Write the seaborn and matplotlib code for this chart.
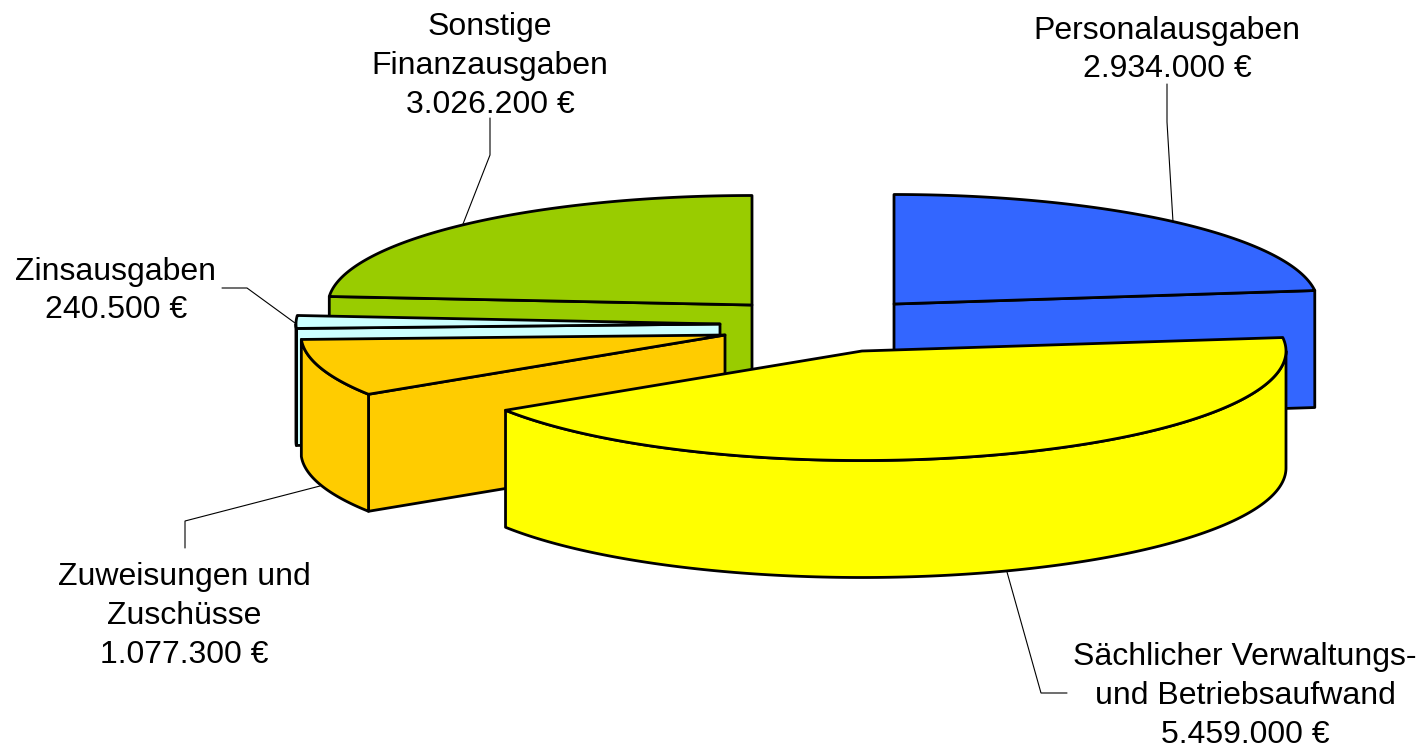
import numpy as np
import matplotlib
matplotlib.use("Agg")
import matplotlib.pyplot as plt
from matplotlib.patches import Polygon
import seaborn as sns

# Data
categories = ["Personalausgaben", "Sächlicher Verwaltungs-\nund Betriebsaufwand",
              "Zuweisungen und\nZuschüsse", "Zinsausgaben", "Sonstige\nFinanzausgaben"]
values = [2934000, 5459000, 1077300, 240500, 3026200]
value_labels = ["2.934.000 €", "5.459.000 €", "1.077.300 €", "240.500 €", "3.026.200 €"]

# Styling / layout
palette = sns.color_palette(["#3366FF", "#FFFF00", "#FFCC00", "#CCFFFF", "#99CC00"])
apex_x = [894, 862, 725, 720, 752]
apex_y = [304, 351, 335, 324, 305]
RX, RY, DEPTH = 424, 109.5, 117
draw_order = [4, 0, 3, 2, 1]
label_pos = [(1167, 50), (1245, 696), (184, 616), (116, 291), (490, 66)]
leaders = [
    [(1167, 84), (1167, 122), (1173, 222)],
    [(1007, 572), (1041, 693), (1067, 693)],
    [(185, 548), (185, 521), (320, 486)],
    [(222, 288), (247, 288), (295, 323)],
    [(490, 118), (490, 155), (463, 224)],
]

sns.set_theme(style="white")
plt.rcParams["font.family"] = ["Liberation Sans", "DejaVu Sans"]

fig, ax = plt.subplots(figsize=(14.23, 7.49), dpi=100)
ax.set_position([0, 0, 1, 1])
ax.set_xlim(0, 1423)
ax.set_ylim(749, 0)
ax.axis("off")

fractions = np.array(values) / np.sum(values)
edges = np.concatenate([[0], np.cumsum(fractions) * 360])
style = dict(edgecolor="black", linewidth=2.0, joinstyle="round")


def rim(cx, cy, angles):
    r = np.radians(angles)
    return np.column_stack([cx + RX * np.sin(r), cy - RY * np.cos(r)])


for i in draw_order:
    a0, a1 = edges[i], edges[i + 1]
    cx, cy = apex_x[i], apex_y[i]
    color = palette[i]
    apex = np.array([cx, cy])
    drop = np.array([0, DEPTH])
    # radial cut faces turned toward the viewer
    for a, visible in ((a0, np.sin(np.radians(a0)) < -1e-6),
                       (a1, np.sin(np.radians(a1)) > 1e-6)):
        if visible:
            p = rim(cx, cy, [a])[0]
            ax.add_patch(Polygon([apex, p, p + drop, apex + drop], closed=True,
                                 facecolor=color, **style))
    # outer wall, front half only
    lo, hi = max(a0, 90), min(a1, 270)
    if hi > lo:
        arc = rim(cx, cy, np.linspace(lo, hi, 160))
        ax.add_patch(Polygon(np.vstack([arc, (arc + drop)[::-1]]), closed=True,
                             facecolor=color, **style))
    # top surface
    top = rim(cx, cy, np.linspace(a0, a1, 200))
    ax.add_patch(Polygon(np.vstack([apex, top]), closed=True, facecolor=color, **style))

for pts in leaders:
    xs, ys = zip(*pts)
    ax.plot(xs, ys, color="black", lw=0.8, solid_joinstyle="miter")

for name, val, (x, y) in zip(categories, value_labels, label_pos):
    ax.text(x, y, f"{name}\n{val}", ha="center", va="center", fontsize=23,
            color="black", linespacing=1.37, multialignment="center")

fig.savefig("out.png", dpi=100)
